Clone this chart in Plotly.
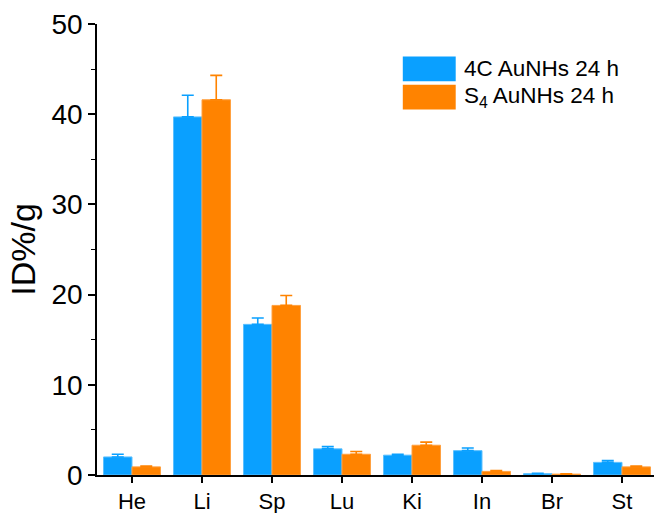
import plotly.graph_objects as go

categories = ["He", "Li", "Sp", "Lu", "Ki", "In", "Br", "St"]
series_names = ["4C AuNHs 24 h", "S<sub>4</sub> AuNHs 24 h"]
values_4c = [2.0, 39.7, 16.7, 2.9, 2.2, 2.7, 0.15, 1.4]
err_4c = [0.3, 2.4, 0.7, 0.25, 0.1, 0.3, 0.05, 0.2]
values_s4 = [0.9, 41.6, 18.8, 2.3, 3.3, 0.4, 0.1, 0.9]
err_s4 = [0.1, 2.7, 1.1, 0.3, 0.35, 0.1, 0.03, 0.1]
y_ticks = [0, 10, 20, 30, 40, 50]

blue = "#0AA0FF"
orange = "#FF8300"

fig = go.Figure()
fig.add_trace(go.Bar(
    x=categories, y=values_4c, name=series_names[0],
    marker=dict(color=blue, line=dict(color="#5CC0FF", width=1)),
    error_y=dict(type="data", array=err_4c, symmetric=False, arrayminus=[0]*len(err_4c),
                 color=blue, thickness=1.6, width=6),
))
fig.add_trace(go.Bar(
    x=categories, y=values_s4, name=series_names[1],
    marker=dict(color=orange, line=dict(color="#FFA040", width=1)),
    error_y=dict(type="data", array=err_s4, symmetric=False, arrayminus=[0]*len(err_s4),
                 color=orange, thickness=1.6, width=6),
))

font_family = "Liberation Sans"

fig.update_layout(
    width=654, height=513,
    margin=dict(l=97, r=0, t=24, b=38),
    paper_bgcolor="white", plot_bgcolor="white",
    barmode="group", bargap=0.186, bargroupgap=0,
    showlegend=False,
    font=dict(family=font_family, color="black", size=20),
    xaxis=dict(
        range=[-0.5, 7.457], showline=True, linecolor="black", linewidth=1.5,
        ticks="outside", ticklen=6, tickwidth=1.5, tickcolor="black", automargin=False,
        tickfont=dict(size=22, family=font_family), showgrid=False, zeroline=False,
    ),
    yaxis=dict(
        range=[0, 50], tickvals=y_ticks, showline=True, linecolor="black", linewidth=1.5,
        ticks="outside", ticklen=7, tickwidth=1.5, tickcolor="black", automargin=False,
        tickfont=dict(size=28, family=font_family), showgrid=False, zeroline=False,
        minor=dict(dtick=5, ticks="outside", ticklen=4, tickwidth=1.2, tickcolor="black", showgrid=False),
        title=dict(text="ID%/g", font=dict(size=34, family=font_family), standoff=6),
    ),
)

# custom legend (large swatches like the reference)
legend_items = [(series_names[0], blue), (series_names[1], orange)]
for i, (name, col) in enumerate(legend_items):
    y0 = 0.928 - i * 0.0625
    fig.add_shape(type="rect", xref="paper", yref="paper",
                  x0=0.549, x1=0.644, y0=y0 - 0.055, y1=y0,
                  fillcolor=col, line=dict(color=col, width=0))
    fig.add_annotation(xref="paper", yref="paper", x=0.655, y=y0 - 0.0275,
                       text=name, showarrow=False, xanchor="left", yanchor="middle",
                       font=dict(size=22.5, family=font_family, color="black"))

fig.write_html("out.html")
